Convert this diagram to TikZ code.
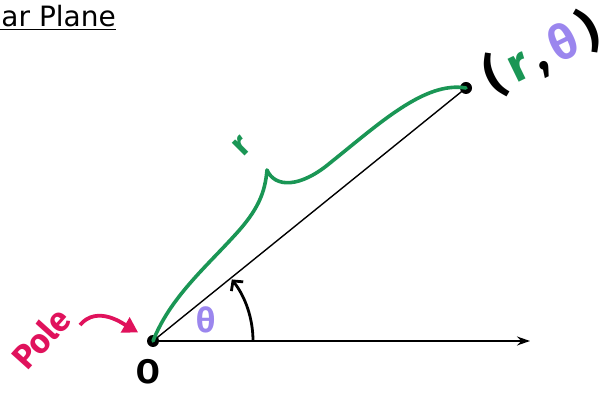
\documentclass[tikz,border=0pt]{standalone}
\usepackage{fontspec}
\setmainfont{Fira Sans}
\newfontfamily\titlefont{DejaVu Sans}
\usetikzlibrary{arrows.meta}
\definecolor{penGreen}{HTML}{1A9655}
\definecolor{penPurple}{HTML}{9B86EE}
\definecolor{penPink}{HTML}{E0125C}
\tikzset{
  dot/.style       = {circle, fill=black, inner sep=0pt, minimum size=12pt},
  ray/.style       = {line width=1.4pt},
  axis/.style      = {line width=1.4pt, -{Stealth[length=13pt, width=9pt]}},
  brace/.style     = {line width=3.6pt, penGreen, line cap=round, line join=round},
  ang/.style       = {line width=2.8pt, -{Straight Barb[length=7pt, width=15pt, line width=2.8pt]}},
  polearrow/.style = {line width=3.8pt, penPink, -{Triangle[length=15pt, width=17pt]}},
  hand/.style      = {font=\bfseries\fontsize{34}{36}\selectfont, inner sep=0pt}
}

\begin{document}
\begin{tikzpicture}[x=1pt, y=1pt]

  \useasboundingbox (0,0) rectangle (613,393);
  \clip (0,0) rectangle (613,393);

  % title (cut off at the left edge)
  \node[anchor=base east, inner sep=0pt, font=\titlefont\fontsize{28}{30}\selectfont] (title) at (116,366) {\underline{Polar Plane}};

  % pole and point
  \node[dot] (O) at (153,52) {};
  \node[dot] (P) at (466,305) {};
  \coordinate (axisend) at (530,52);
  \coordinate (cusp) at (267,223);
  \coordinate (polefrom) at (80,68);

  % axis and ray
  \draw[axis] (O.center) -- (axisend);
  \draw[ray] (O.center) -- (P.center);

  % angle
  \draw[ang] (O.center) ++(100,0) arc[start angle=0, end angle=38, radius=100];
  \node[hand, penPurple] (theta) at (206,73) {θ};

  % brace for r
  \draw[brace] (O.center) .. controls (170,95) and (205,125) .. (235,158)
    .. controls (258,183) and (265,200) .. (cusp)
    .. controls (275,205) and (300,205) .. (330,230)
    .. controls (380,270) and (425,312) .. (P.center);
  \node[hand, penGreen, rotate=45] (rlbl) at (242,247) {r};

  % labels
  \node[hand] (Olbl) at (148,21) {O};
  \node[hand, font=\bfseries\fontsize{48}{50}\selectfont, rotate=26] (coord) at (542,340)
    {(\,\textcolor{penGreen}{r}\,,\,\textcolor{penPurple}{θ}\,)};

  % pole
  \node[hand, penPink, rotate=48] (polelbl) at (41,55) {Pole};
  \draw[polearrow, shorten >=11pt] (polefrom) to[out=50, in=150] (O);

\end{tikzpicture}
\end{document}
